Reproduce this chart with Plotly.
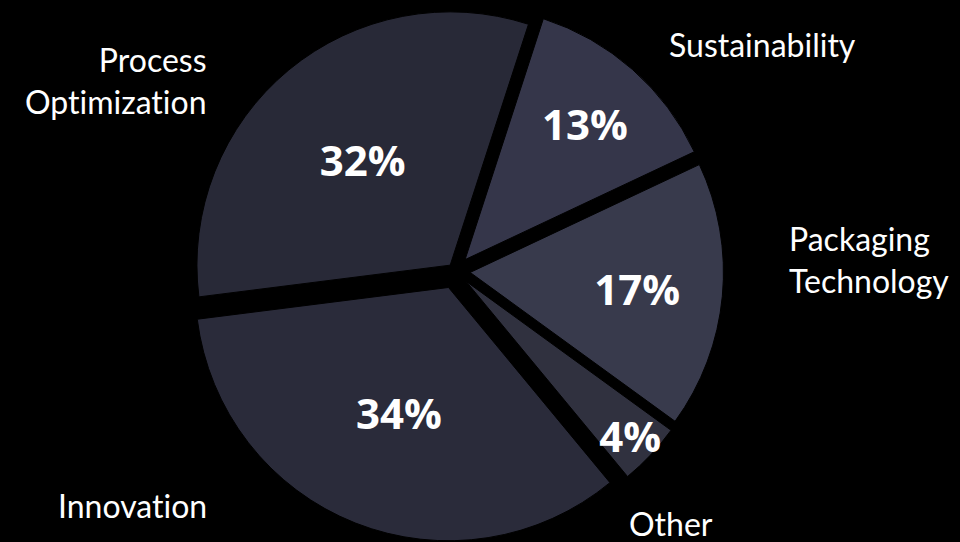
import plotly.graph_objects as go

categories = ["Sustainability", "Packaging Technology", "Other", "Innovation", "Process Optimization"]
display_labels = ["Sustainability", "Packaging<br>Technology", "Other", "Innovat\u200cion", "Process<br>Opt\u200cimizat\u200cion"]
values = [13, 17, 4, 34, 32]
slice_colors = ["#35364a", "#383a4c", "#30313f", "#2a2b3a", "#282937"]
pulls = [0.06, 0.06, 0.06, 0.07, 0.03]

fig = go.Figure()
fig.add_trace(go.Pie(
    labels=categories,
    values=values,
    sort=False,
    direction="clockwise",
    rotation=18,
    pull=pulls,
    marker=dict(colors=slice_colors, line=dict(color="#000000", width=1)),
    texttemplate="%{percent:.0%}",
    textposition="inside",
    insidetextorientation="horizontal",
    textfont=dict(family="Open Sans", size=42, color="#ffffff", weight="bold"),
    domain=dict(x=[0, 0.948], y=[0, 1]),
    showlegend=False,
    hoverinfo="label+percent",
))

# outside category labels
label_pos = [
    (667, 45, "left", "left"),
    (787, 260, "left", "left"),
    (627, 523, "left", "left"),
    (209, 505, "right", "right"),
    (209, 80, "right", "right"),
]
for txt, (px, py, xa, al) in zip(display_labels, label_pos):
    fig.add_annotation(
        x=px / 960, y=1 - py / 542, xref="paper", yref="paper",
        text=txt, showarrow=False, xanchor=xa, yanchor="middle", align=al,
        font=dict(family="Lato", size=32, color="#ffffff"),
    )

fig.update_layout(
    width=960, height=542,
    margin=dict(l=0, r=0, t=0, b=0),
    paper_bgcolor="#000000",
    plot_bgcolor="#000000",
    uniformtext=dict(minsize=42, mode="show"),
)

fig.write_html("out.html")
